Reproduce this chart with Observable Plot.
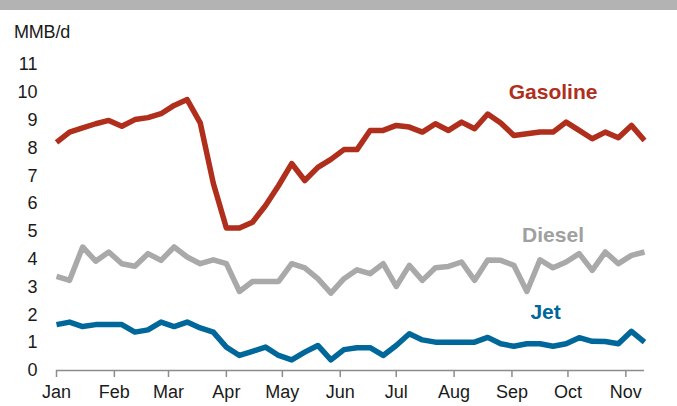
<!DOCTYPE html>
<html>
<head>
<meta charset="utf-8">
<script src="https://cdn.jsdelivr.net/npm/d3@7"></script>
<script src="https://cdn.jsdelivr.net/npm/@observablehq/plot@0.6"></script>
<style>
  html, body { margin: 0; padding: 0; background: #fff; }
  #wrap { position: relative; width: 677px; height: 406px; overflow: hidden; font-family: "Liberation Sans", Arial, sans-serif; }
  #bar { position: absolute; left: 0; top: 0; width: 677px; height: 10px; background: #b3b3b3; }
  #unit { position: absolute; left: 14px; top: 23px; font-size: 18px; line-height: 18px; color: #1a1a1a; letter-spacing: -0.2px; }
  #chart { position: absolute; left: 0; top: 10px; }
</style>
</head>
<body>
<div id="wrap">
  <div id="bar"></div>
  <div id="chart"></div>
  <div id="unit">MMB/d</div>
</div>
<script>
const dates = [
  "2020-01-01","2020-01-08","2020-01-15","2020-01-22","2020-01-29",
  "2020-02-05","2020-02-12","2020-02-19","2020-02-26",
  "2020-03-04","2020-03-11","2020-03-18","2020-03-25",
  "2020-04-01","2020-04-08","2020-04-15","2020-04-22","2020-04-29",
  "2020-05-06","2020-05-13","2020-05-20","2020-05-27",
  "2020-06-03","2020-06-10","2020-06-17","2020-06-24",
  "2020-07-01","2020-07-08","2020-07-15","2020-07-22","2020-07-29",
  "2020-08-05","2020-08-12","2020-08-19","2020-08-26",
  "2020-09-02","2020-09-09","2020-09-16","2020-09-23","2020-09-30",
  "2020-10-07","2020-10-14","2020-10-21","2020-10-28",
  "2020-11-04","2020-11-11"
];
const gasoline = [8.2, 8.57, 8.72, 8.87, 8.99, 8.78, 9.02, 9.09, 9.23, 9.53, 9.74, 8.9, 6.73,
  5.12, 5.12, 5.33, 5.93, 6.65, 7.44, 6.83, 7.3, 7.59, 7.94, 7.94, 8.63, 8.63, 8.81, 8.75,
  8.57, 8.87, 8.63, 8.93, 8.69, 9.22, 8.9, 8.45, 8.51, 8.57, 8.57, 8.93, 8.63, 8.33, 8.57,
  8.37, 8.81, 8.27];
const diesel = [3.38, 3.24, 4.44, 3.93, 4.26, 3.84, 3.75, 4.2, 3.96, 4.44, 4.08, 3.84, 3.98,
  3.84, 2.84, 3.2, 3.2, 3.2, 3.84, 3.69, 3.3, 2.78, 3.3, 3.62, 3.48, 3.84, 3.02, 3.78, 3.24,
  3.69, 3.74, 3.9, 3.24, 3.97, 3.96, 3.78, 2.84, 3.98, 3.69, 3.9, 4.2, 3.6, 4.26, 3.84, 4.14,
  4.26];
const jet = [1.65, 1.74, 1.58, 1.65, 1.65, 1.65, 1.38, 1.46, 1.74, 1.58, 1.74, 1.53, 1.38,
  0.84, 0.54, 0.69, 0.84, 0.54, 0.38, 0.66, 0.9, 0.38, 0.75, 0.82, 0.82, 0.54, 0.9, 1.32,
  1.1, 1.02, 1.02, 1.02, 1.02, 1.19, 0.96, 0.87, 0.96, 0.96, 0.87, 0.96, 1.18, 1.05, 1.04,
  0.96, 1.41, 1.02];

const seriesNames = ["Gasoline", "Diesel", "Jet"];
const lineColors = ["#b02e1c", "#a9a9a9", "#00679a"];
const labelColors = ["#b02e1c", "#a0a0a0", "#00679a"];
const labelDates = ["2020-09-23", "2020-09-23", "2020-09-19"];
const labelValues = [10.0, 4.85, 2.08];

const monthStarts = ["2020-01-01","2020-02-01","2020-03-01","2020-04-01","2020-05-01","2020-06-01",
  "2020-07-01","2020-08-01","2020-09-01","2020-10-01","2020-11-01"];
const monthLabels = ["Jan","Feb","Mar","Apr","May","Jun","Jul","Aug","Sep","Oct","Nov"];
const yTicks = [0,1,2,3,4,5,6,7,8,9,10,11];

const valuesBySeries = [gasoline, diesel, jet];
const rows = [];
seriesNames.forEach((name, s) => {
  valuesBySeries[s].forEach((v, i) => rows.push({series: name, date: new Date(dates[i]), value: v}));
});
const labels = seriesNames.map((name, s) => ({series: name, date: new Date(labelDates[s]), value: labelValues[s]}));
const tickDates = monthStarts.map(d => new Date(d));

const chart = Plot.plot({
  width: 677,
  height: 396,
  marginLeft: 56,
  marginRight: 33,
  marginTop: 54,
  marginBottom: 36,
  style: {fontFamily: "'Liberation Sans', Arial, sans-serif", background: "transparent", color: "#1a1a1a"},
  x: {type: "utc", domain: [new Date("2020-01-01"), new Date("2020-11-11")]},
  y: {domain: [0, 11]},
  color: {domain: seriesNames, range: lineColors},
  marks: [
    Plot.axisY({ticks: yTicks, tickSize: 0, tickPadding: 19, label: null, fontSize: 18, fill: "#1a1a1a"}),
    Plot.ruleY([0], {stroke: "#8c8c8c", strokeWidth: 1.5}),
    Plot.axisX({ticks: tickDates, tickFormat: (d, i) => monthLabels[i], tickSize: 7, tickPadding: 8,
      stroke: "#8c8c8c", strokeWidth: 1.5, label: null, fontSize: 18, fill: "#1a1a1a"}),
    Plot.line(rows, {x: "date", y: "value", z: "series", stroke: "series", strokeWidth: 5.5,
      strokeLinejoin: "round", strokeLinecap: "butt"}),
    Plot.text(labels, {x: "date", y: "value", text: "series", fill: (d) => labelColors[seriesNames.indexOf(d.series)],
      fontSize: 21, fontWeight: "bold", textAnchor: "middle"})
  ]
});
document.getElementById("chart").appendChild(chart);
</script>
</body>
</html>
